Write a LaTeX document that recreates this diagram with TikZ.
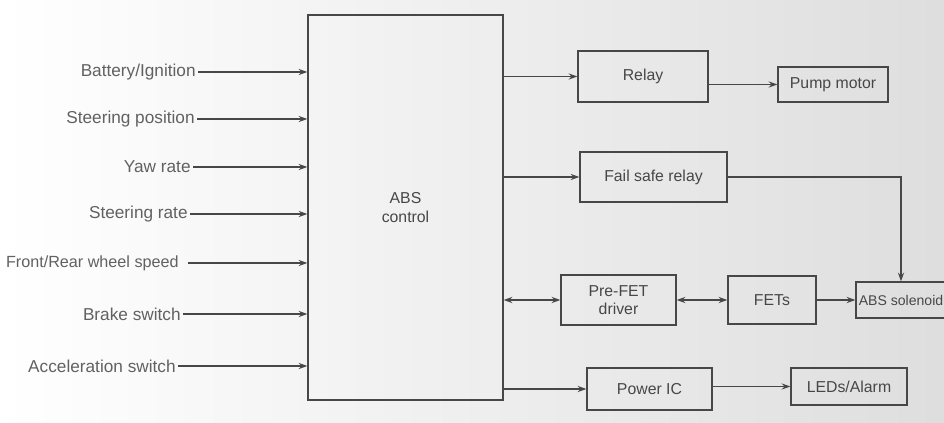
\documentclass[tikz,border=0pt]{standalone}
\usepackage{fontspec}
\setmainfont{Liberation Sans}
\usetikzlibrary{arrows.meta}
\tikzset{
  blk/.style={draw, rectangle, line width=0.7pt, inner sep=1pt, font=\fontsize{9}{10.5}\selectfont},
  inp/.style={anchor=east, inner xsep=1pt, text=black!62, font=\fontsize{9.8}{11}\selectfont},
}
\begin{document}
\begin{tikzpicture}[>={Stealth[length=5pt,width=3.5pt]}, line width=0.7pt, color=black!72]
% paper
\shade[left color=white, right color=black!13] (0,0) rectangle (18.88,8.46);
\useasboundingbox (0,0) rectangle (18.88,8.46);
\node[blk, minimum width=3.9cm, minimum height=7.7cm, align=center](ABS) at (8.11,4.31){ABS\\control};
\node[inp](I1) at (3.96,7.02){Battery/Ignition};
\node[inp](I2) at (3.94,6.08){Steering position};
\node[inp](I3) at (3.86,5.12){Yaw rate};
\node[inp](I4) at (3.80,4.18){Steering rate};
\node[inp, font=\fontsize{9.2}{11}\selectfont](I5) at (3.62,3.20){Front/Rear wheel speed};
\node[inp](I6) at (3.66,2.18){Brake switch};
\node[inp](I7) at (3.56,1.14){Acceleration switch};
\node[blk, minimum width=2.6cm, minimum height=1.02cm](R) at (12.86,6.93){Relay};
\node[blk, minimum width=2.2cm, minimum height=0.7cm](PM) at (16.66,6.77){Pump motor};
\node[blk, minimum width=2.94cm, minimum height=1.0cm](FS) at (13.07,4.92){Fail safe relay};
\node[blk, minimum width=1.8cm, minimum height=0.72cm, font=\fontsize{8}{9.5}\selectfont](SOL) at (18.02,2.46){ABS solenoid};
\node[blk, minimum width=2.3cm, minimum height=1.0cm, align=center](PF) at (12.37,2.46){Pre-FET\\driver};
\node[blk, minimum width=1.76cm, minimum height=0.96cm](FET) at (15.44,2.46){FETs};
\node[blk, minimum width=2.5cm, minimum height=0.84cm](PIC) at (12.99,0.68){Power IC};
\node[blk, minimum width=2.32cm, minimum height=0.74cm](LED) at (16.98,0.73){LEDs/Alarm};
% inputs
\draw[->](I1)--(I1 -| ABS.west);
\draw[->](I2)--(I2 -| ABS.west);
\draw[->](I3)--(I3 -| ABS.west);
\draw[->](I4)--(I4 -| ABS.west);
\draw[->]([xshift=4pt]I5.east)--(I5 -| ABS.west);
\draw[->](I6)--(I6 -| ABS.west);
\draw[->](I7)--(I7 -| ABS.west);
% outputs
\draw[->](ABS.east |- R)--(R);
\draw[->](R.east |- PM)--(PM);
\draw[->](ABS.east |- FS)--(FS);
\draw[->](FS.east)-|(SOL.north);
\draw[<->](ABS.east |- PF)--(PF);
\draw[<->](PF)--(FET);
\draw[->](FET)--(SOL);
\draw[->](ABS.east |- PIC)--(PIC);
\draw[->](PIC.east |- LED)--(LED);
\end{tikzpicture}
\end{document}
